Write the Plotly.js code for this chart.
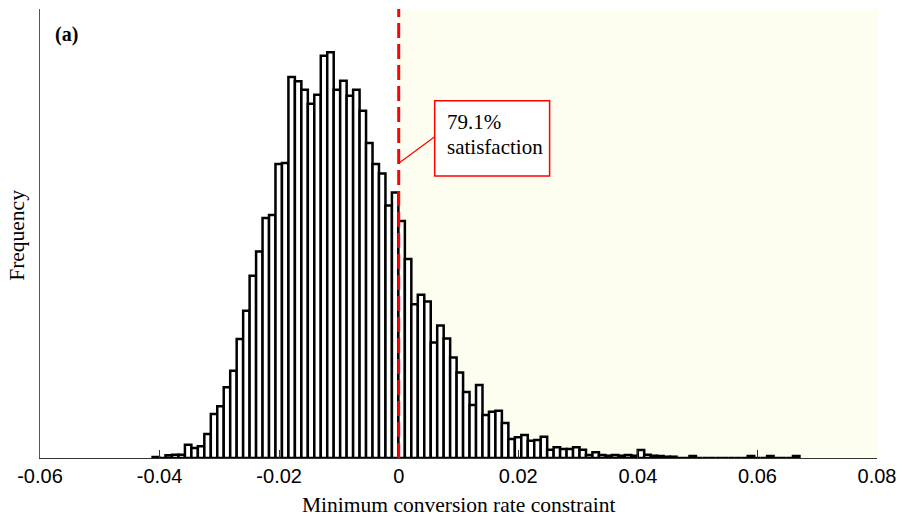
<!DOCTYPE html>
<html>
<head>
<meta charset="utf-8">
<script src="https://cdn.plot.ly/plotly-3.0.1.min.js"></script>
<style>html,body{margin:0;padding:0;background:#fff;}#chart{width:899px;height:518px;}</style>
</head>
<body>
<div id="chart"></div>
<script>
// Histogram: 100 equal bins between the sample minimum and maximum
const binStart = -0.04117;
const binWidth = 0.001082;
const frequency = [
  1, 0, 2.7, 3.3, 3.3, 13.3, 10, 11.7, 24, 44,
  51.7, 70.7, 87.3, 119, 147.3, 182.3, 206.5, 240, 243, 294,
  295, 381, 376.7, 368.3, 354.3, 363.3, 402.3, 405.7, 368.3, 377.3,
  362.3, 368.3, 347.3, 315, 294, 284.5, 252.5, 265.5, 237, 199,
  153.7, 163.3, 156.5, 115.5, 132.5, 119.5, 100.5, 85.5, 66, 53,
  73, 43, 46.3, 47.3, 35, 19, 20.7, 23, 17.3, 18,
  21.3, 8.3, 10.7, 9, 9, 10.7, 8.3, 3, 5.7, 3,
  2.3, 3, 2.3, 3, 2.3, 8, 3.3, 2.3, 2, 1.3,
  1.3, 0, 0, 2, 0, 0, 0, 0, 0, 0,
  0, 0, 2, 0, 0, 2, 0, 0, 0, 2
];
const tickValues = [-0.06, -0.04, -0.02, 0, 0.02, 0.04, 0.06, 0.08];
const tickLabels = ["-0.06", "-0.04", "-0.02", "0", "0.02", "0.04", "0.06", "0.08"];
const threshold = 0;
const satisfactionText = ["79.1%", "satisfaction"];
const xTitle = "Minimum conversion rate constraint";
const yTitle = "Frequency";
const panelLabel = "(a)";

const binCenters = frequency.map((_, k) => binStart + (k + 0.5) * binWidth);

const serif = "Liberation Serif, Times New Roman, serif";
const sans = "Liberation Sans, Arial, sans-serif";

const data = [{
  type: "bar",
  x: binCenters,
  y: frequency,
  width: binWidth,
  marker: {color: "#ffffff", line: {color: "#000000", width: 2.5}},
  hoverinfo: "x+y"
}];

const layout = {
  width: 899, height: 518,
  margin: {l: 40, r: 22, t: 9, b: 60},
  paper_bgcolor: "#ffffff",
  plot_bgcolor: "#ffffff",
  showlegend: false,
  bargap: 0,
  xaxis: {
    range: [-0.06, 0.08],
    tickvals: tickValues,
    ticktext: tickLabels,
    ticks: "inside",
    ticklen: 8,
    tickwidth: 1,
    tickcolor: "#333333",
    showline: true,
    linecolor: "#333333",
    linewidth: 1,
    showgrid: false,
    zeroline: false,
    tickfont: {family: sans, size: 20, color: "#000000"},
    layer: "above traces"
  },
  yaxis: {
    range: [0, 449],
    showticklabels: false,
    ticks: "",
    showline: true,
    linecolor: "#555555",
    linewidth: 1,
    showgrid: false,
    zeroline: false
  },
  shapes: [
    {type: "rect", xref: "x", yref: "paper", x0: threshold, x1: 0.08, y0: 0, y1: 1,
     fillcolor: "#fdfdf0", line: {width: 0}, layer: "below"},
    {type: "line", xref: "x", yref: "paper", x0: threshold, x1: threshold, y0: 0, y1: 1,
     line: {color: "#ff0000", width: 3, dash: "15px,6px"}, layer: "above"},
    {type: "line", xref: "x", yref: "y", x0: threshold, y0: 294.7, x1: 0.00602, y1: 321.3,
     line: {color: "#ff0000", width: 1.2}, layer: "above"},
    {type: "rect", xref: "x", yref: "y", x0: 0.00602, x1: 0.02524, y0: 282, y1: 357.3,
     fillcolor: "#ffffff", line: {color: "#ff0000", width: 1.5}, layer: "above"}
  ],
  annotations: [
    {xref: "x", yref: "y", x: 0.0078, y: 336, xanchor: "left", yanchor: "middle",
     text: satisfactionText[0], showarrow: false, font: {family: serif, size: 21, color: "#000"}},
    {xref: "x", yref: "y", x: 0.0078, y: 311.5, xanchor: "left", yanchor: "middle",
     text: satisfactionText[1], showarrow: false, font: {family: serif, size: 21, color: "#000"}},
    {xref: "paper", yref: "paper", x: 0.5, y: -0.105, xanchor: "center", yanchor: "middle",
     text: xTitle, showarrow: false, font: {family: serif, size: 21.5, color: "#000"}},
    {xref: "paper", yref: "paper", x: -0.0275, y: 0.497, xanchor: "center", yanchor: "middle",
     text: yTitle, textangle: -90, showarrow: false, font: {family: serif, size: 21.5, color: "#000"}},
    {xref: "paper", yref: "paper", x: 0.0155, y: 0.944, xanchor: "left", yanchor: "middle",
     text: "<b>" + panelLabel + "</b>", showarrow: false, font: {family: serif, size: 20, color: "#000"}}
  ]
};

Plotly.newPlot("chart", data, layout, {displayModeBar: false, staticPlot: true});
</script>
</body>
</html>
